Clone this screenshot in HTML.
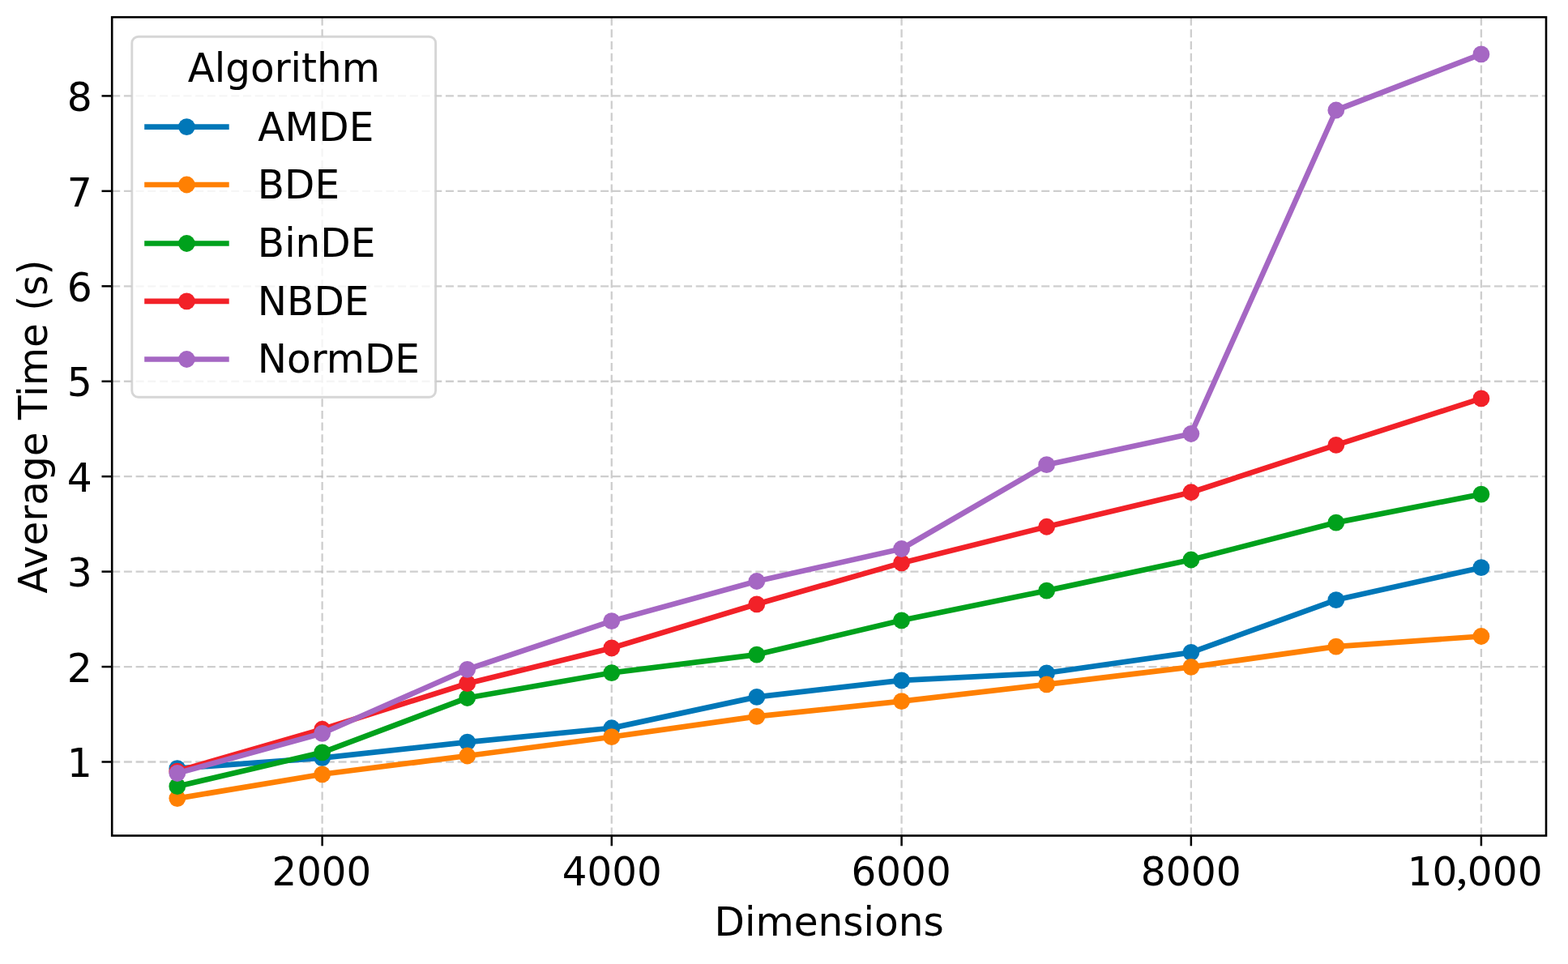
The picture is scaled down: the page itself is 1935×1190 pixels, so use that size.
<!DOCTYPE html>
<html lang="en"><head><meta charset="utf-8"><title>Average Time vs Dimensions</title>
<style>html,body{margin:0;padding:0;background:#fff;}body{width:1935px;height:1190px;overflow:hidden;}svg{display:block;}text{font-family:'DejaVu Sans', 'Liberation Sans', sans-serif;fill:#000;}</style>
</head><body>
<svg width="1935" height="1190" viewBox="0 0 1935 1190">
<rect x="0" y="0" width="1935" height="1190" fill="#ffffff"/>
<g stroke="#b0b0b0" stroke-opacity="0.62" stroke-width="2.30" stroke-dasharray="10.0 4.705" fill="none">
<line x1="397.65" y1="1031.56" x2="397.65" y2="21.20"/>
<line x1="754.80" y1="1031.56" x2="754.80" y2="21.20"/>
<line x1="1112.60" y1="1031.56" x2="1112.60" y2="21.20"/>
<line x1="1469.85" y1="1031.56" x2="1469.85" y2="21.20"/>
<line x1="1827.90" y1="1031.56" x2="1827.90" y2="21.20"/>
<line x1="138.20" y1="940.50" x2="1908.00" y2="940.50"/>
<line x1="138.20" y1="823.06" x2="1908.00" y2="823.06"/>
<line x1="138.20" y1="705.62" x2="1908.00" y2="705.62"/>
<line x1="138.20" y1="588.18" x2="1908.00" y2="588.18"/>
<line x1="138.20" y1="470.74" x2="1908.00" y2="470.74"/>
<line x1="138.20" y1="353.30" x2="1908.00" y2="353.30"/>
<line x1="138.20" y1="235.86" x2="1908.00" y2="235.86"/>
<line x1="138.20" y1="118.42" x2="1908.00" y2="118.42"/>
</g>
<g stroke="#000" stroke-width="2.50" fill="none">
<line x1="397.65" y1="1031.56" x2="397.65" y2="1044.26"/>
<line x1="754.80" y1="1031.56" x2="754.80" y2="1044.26"/>
<line x1="1112.60" y1="1031.56" x2="1112.60" y2="1044.26"/>
<line x1="1469.85" y1="1031.56" x2="1469.85" y2="1044.26"/>
<line x1="1827.90" y1="1031.56" x2="1827.90" y2="1044.26"/>
<line x1="125.50" y1="940.50" x2="138.20" y2="940.50"/>
<line x1="125.50" y1="823.06" x2="138.20" y2="823.06"/>
<line x1="125.50" y1="705.62" x2="138.20" y2="705.62"/>
<line x1="125.50" y1="588.18" x2="138.20" y2="588.18"/>
<line x1="125.50" y1="470.74" x2="138.20" y2="470.74"/>
<line x1="125.50" y1="353.30" x2="138.20" y2="353.30"/>
<line x1="125.50" y1="235.86" x2="138.20" y2="235.86"/>
<line x1="125.50" y1="118.42" x2="138.20" y2="118.42"/>
</g>
<g><polyline points="218.80,948.70 397.65,935.60 576.70,916.10 754.80,898.75 933.85,860.40 1112.60,839.80 1291.60,830.80 1469.85,805.40 1648.80,740.60 1827.90,700.65" fill="none" stroke="#0077B8" stroke-width="6.70" stroke-linejoin="round" stroke-linecap="butt"/>
<circle cx="218.80" cy="948.70" r="10.40" fill="#0077B8"/>
<circle cx="397.65" cy="935.60" r="10.40" fill="#0077B8"/>
<circle cx="576.70" cy="916.10" r="10.40" fill="#0077B8"/>
<circle cx="754.80" cy="898.75" r="10.40" fill="#0077B8"/>
<circle cx="933.85" cy="860.40" r="10.40" fill="#0077B8"/>
<circle cx="1112.60" cy="839.80" r="10.40" fill="#0077B8"/>
<circle cx="1291.60" cy="830.80" r="10.40" fill="#0077B8"/>
<circle cx="1469.85" cy="805.40" r="10.40" fill="#0077B8"/>
<circle cx="1648.80" cy="740.60" r="10.40" fill="#0077B8"/>
<circle cx="1827.90" cy="700.65" r="10.40" fill="#0077B8"/>
</g>
<g><polyline points="218.80,985.60 397.65,955.80 576.70,933.00 754.80,909.70 933.85,884.40 1112.60,865.60 1291.60,844.80 1469.85,823.40 1648.80,798.10 1827.90,785.50" fill="none" stroke="#FF8002" stroke-width="6.70" stroke-linejoin="round" stroke-linecap="butt"/>
<circle cx="218.80" cy="985.60" r="10.40" fill="#FF8002"/>
<circle cx="397.65" cy="955.80" r="10.40" fill="#FF8002"/>
<circle cx="576.70" cy="933.00" r="10.40" fill="#FF8002"/>
<circle cx="754.80" cy="909.70" r="10.40" fill="#FF8002"/>
<circle cx="933.85" cy="884.40" r="10.40" fill="#FF8002"/>
<circle cx="1112.60" cy="865.60" r="10.40" fill="#FF8002"/>
<circle cx="1291.60" cy="844.80" r="10.40" fill="#FF8002"/>
<circle cx="1469.85" cy="823.40" r="10.40" fill="#FF8002"/>
<circle cx="1648.80" cy="798.10" r="10.40" fill="#FF8002"/>
<circle cx="1827.90" cy="785.50" r="10.40" fill="#FF8002"/>
</g>
<g><polyline points="218.80,970.70 397.65,928.85 576.70,861.50 754.80,830.55 933.85,808.10 1112.60,765.80 1291.60,729.15 1469.85,691.00 1648.80,645.10 1827.90,610.10" fill="none" stroke="#00A11C" stroke-width="6.70" stroke-linejoin="round" stroke-linecap="butt"/>
<circle cx="218.80" cy="970.70" r="10.40" fill="#00A11C"/>
<circle cx="397.65" cy="928.85" r="10.40" fill="#00A11C"/>
<circle cx="576.70" cy="861.50" r="10.40" fill="#00A11C"/>
<circle cx="754.80" cy="830.55" r="10.40" fill="#00A11C"/>
<circle cx="933.85" cy="808.10" r="10.40" fill="#00A11C"/>
<circle cx="1112.60" cy="765.80" r="10.40" fill="#00A11C"/>
<circle cx="1291.60" cy="729.15" r="10.40" fill="#00A11C"/>
<circle cx="1469.85" cy="691.00" r="10.40" fill="#00A11C"/>
<circle cx="1648.80" cy="645.10" r="10.40" fill="#00A11C"/>
<circle cx="1827.90" cy="610.10" r="10.40" fill="#00A11C"/>
</g>
<g><polyline points="218.80,952.05 397.65,900.25 576.70,843.70 754.80,799.90 933.85,745.80 1112.60,694.90 1291.60,650.25 1469.85,607.75 1648.80,549.40 1827.90,491.90" fill="none" stroke="#F22128" stroke-width="6.70" stroke-linejoin="round" stroke-linecap="butt"/>
<circle cx="218.80" cy="952.05" r="10.40" fill="#F22128"/>
<circle cx="397.65" cy="900.25" r="10.40" fill="#F22128"/>
<circle cx="576.70" cy="843.70" r="10.40" fill="#F22128"/>
<circle cx="754.80" cy="799.90" r="10.40" fill="#F22128"/>
<circle cx="933.85" cy="745.80" r="10.40" fill="#F22128"/>
<circle cx="1112.60" cy="694.90" r="10.40" fill="#F22128"/>
<circle cx="1291.60" cy="650.25" r="10.40" fill="#F22128"/>
<circle cx="1469.85" cy="607.75" r="10.40" fill="#F22128"/>
<circle cx="1648.80" cy="549.40" r="10.40" fill="#F22128"/>
<circle cx="1827.90" cy="491.90" r="10.40" fill="#F22128"/>
</g>
<g><polyline points="218.80,954.50 397.65,905.30 576.70,826.30 754.80,766.60 933.85,717.50 1112.60,677.50 1291.60,573.70 1469.85,535.50 1648.80,136.00 1827.90,66.93" fill="none" stroke="#A567C3" stroke-width="6.70" stroke-linejoin="round" stroke-linecap="butt"/>
<circle cx="218.80" cy="954.50" r="10.40" fill="#A567C3"/>
<circle cx="397.65" cy="905.30" r="10.40" fill="#A567C3"/>
<circle cx="576.70" cy="826.30" r="10.40" fill="#A567C3"/>
<circle cx="754.80" cy="766.60" r="10.40" fill="#A567C3"/>
<circle cx="933.85" cy="717.50" r="10.40" fill="#A567C3"/>
<circle cx="1112.60" cy="677.50" r="10.40" fill="#A567C3"/>
<circle cx="1291.60" cy="573.70" r="10.40" fill="#A567C3"/>
<circle cx="1469.85" cy="535.50" r="10.40" fill="#A567C3"/>
<circle cx="1648.80" cy="136.00" r="10.40" fill="#A567C3"/>
<circle cx="1827.90" cy="66.93" r="10.40" fill="#A567C3"/>
</g>
<rect x="138.20" y="21.20" width="1769.80" height="1010.36" fill="none" stroke="#000" stroke-width="2.60" stroke-linejoin="miter"/>
<text transform="translate(335.47 1093.00) scale(0.9645 1)" font-size="50">2000</text>
<text transform="translate(693.84 1093.00) scale(0.9664 1)" font-size="50">4000</text>
<text transform="translate(1050.52 1093.00) scale(0.9682 1)" font-size="50">6000</text>
<text transform="translate(1407.69 1093.00) scale(0.9748 1)" font-size="50">8000</text>
<text transform="translate(0 1093.00) scale(0.9720 1)" font-size="50"><tspan x="1786.69" y="0">10</tspan><tspan x="1847.93" y="-1.9" font-family="'Noto Sans CJK SC', 'Noto Sans CJK JP', 'Liberation Serif', serif" font-size="47" textLength="15.19" lengthAdjust="spacingAndGlyphs">,</tspan><tspan x="1863.02" y="0">000</tspan></text>
<text transform="translate(82.65 959.20) scale(0.9750 1)" font-size="50">1</text>
<text transform="translate(82.65 841.76) scale(0.9750 1)" font-size="50">2</text>
<text transform="translate(82.65 724.32) scale(0.9750 1)" font-size="50">3</text>
<text transform="translate(82.65 606.88) scale(0.9750 1)" font-size="50">4</text>
<text transform="translate(82.65 489.44) scale(0.9750 1)" font-size="50">5</text>
<text transform="translate(82.65 372.00) scale(0.9750 1)" font-size="50">6</text>
<text transform="translate(82.65 254.56) scale(0.9750 1)" font-size="50">7</text>
<text transform="translate(82.65 137.12) scale(0.9750 1)" font-size="50">8</text>
<text transform="translate(881.53 1155.20) scale(0.9713 1)" font-size="50">Dimensions</text>
<text transform="translate(58.00 732.68) rotate(-90) scale(0.9706 1)" font-size="50">Average Time (s)</text>
<rect x="162.80" y="45.20" width="374.80" height="445.10" rx="8" ry="8" fill="#ffffff" fill-opacity="0.8" stroke="#cccccc" stroke-opacity="0.8" stroke-width="2.9"/>
<text transform="translate(231.72 101.30) scale(0.9688 1)" font-size="50">Algorithm</text>
<line x1="178.20" y1="156.55" x2="282.70" y2="156.55" stroke="#0077B8" stroke-width="6.70"/>
<circle cx="230.40" cy="156.55" r="10.40" fill="#0077B8"/>
<text transform="translate(318.32 174.20) scale(0.9705 1)" font-size="50">AMDE</text>
<line x1="178.20" y1="228.00" x2="282.70" y2="228.00" stroke="#FF8002" stroke-width="6.70"/>
<circle cx="230.40" cy="228.00" r="10.40" fill="#FF8002"/>
<text transform="translate(317.85 245.00) scale(0.9690 1)" font-size="50">BDE</text>
<line x1="178.20" y1="300.50" x2="282.70" y2="300.50" stroke="#00A11C" stroke-width="6.70"/>
<circle cx="230.40" cy="300.50" r="10.40" fill="#00A11C"/>
<text transform="translate(317.84 316.80) scale(0.9706 1)" font-size="50">BinDE</text>
<line x1="178.20" y1="371.95" x2="282.70" y2="371.95" stroke="#F22128" stroke-width="6.70"/>
<circle cx="230.40" cy="371.95" r="10.40" fill="#F22128"/>
<text transform="translate(317.84 388.95) scale(0.9701 1)" font-size="50">NBDE</text>
<line x1="178.20" y1="443.50" x2="282.70" y2="443.50" stroke="#A567C3" stroke-width="6.70"/>
<circle cx="230.40" cy="443.50" r="10.40" fill="#A567C3"/>
<text transform="translate(317.85 459.95) scale(0.9689 1)" font-size="50">NormDE</text>
</svg>
</body></html>
